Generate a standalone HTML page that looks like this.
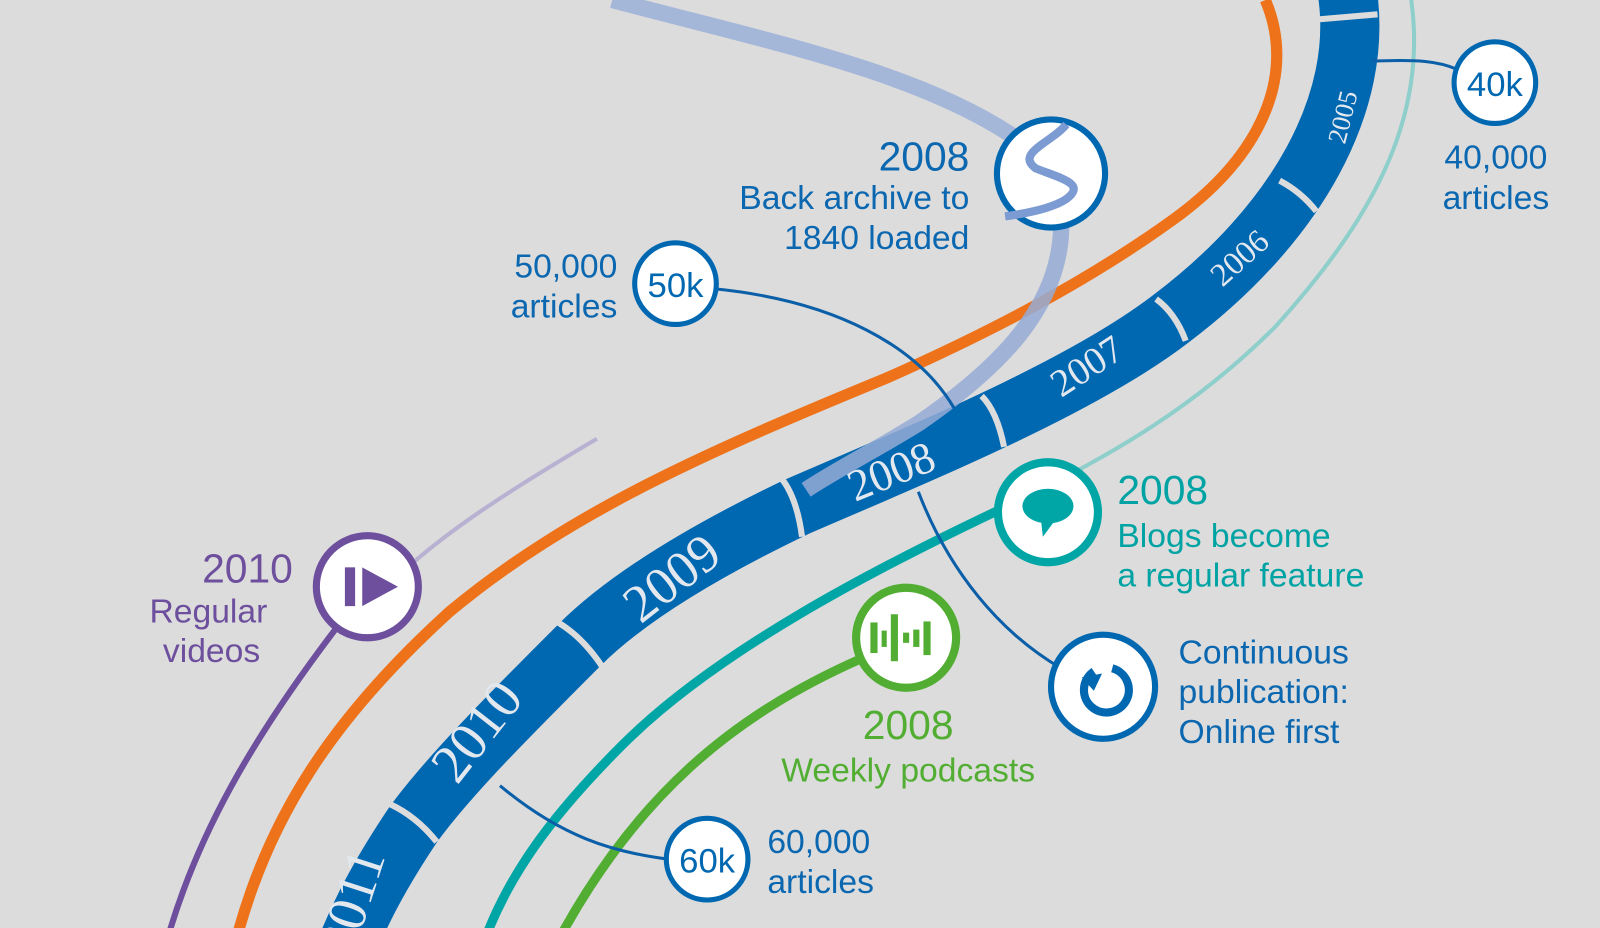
<!DOCTYPE html>
<html><head><meta charset="utf-8"><style>
html,body{margin:0;padding:0;background:#dcdcdc;}
svg{display:block;}
text{font-family:"Liberation Sans",sans-serif;}
.yr{font-family:"Liberation Serif",serif;fill:#e3e8ef;}
</style></head><body>
<svg width="1600" height="928" viewBox="0 0 1600 928" xmlns="http://www.w3.org/2000/svg">
<rect width="1600" height="928" fill="#dcdcdc"/>
<g transform="scale(1.0204)">
<!-- purple line -->
<path d="M585,430 C500,480 420,530 370,585" stroke="#b9b1d2" stroke-width="4" fill="none"/>
<path d="M330,615 C250,720 190,820 160,935" stroke="#6d4f9d" stroke-width="6" fill="none"/>
<!-- light teal upper -->
<path d="M1383,0 C1400,120 1340,220 1250,320 C1170,400 1090,445 1000,490" stroke="#8fcfcb" stroke-width="4" fill="none"/>
<!-- teal lower -->
<path d="M1000,490 C850,560 700,640 610,730 C540,800 495,860 470,935" stroke="#00a6a6" stroke-width="9" fill="none"/>
<!-- green -->
<path d="M845,645 C720,700 620,780 540,935" stroke="#52ae32" stroke-width="9" fill="none"/>
<!-- blue band -->
<path d="M1320,-10 C1338,100 1270,220 1148,312 C1060,380 900,445 780,497 C680,545 610,590 568,632 C500,700 440,760 405,808 C370,860 350,900 335,940" stroke="#0067b1" stroke-width="58" fill="none"/>
<!-- separators -->
<g stroke="#dcdcdc" stroke-width="6" fill="none">
<path d="M1292,19 L1350,14"/>
<path d="M1254,177 Q1275,188 1290,207"/>
<path d="M1133,293 Q1152,307 1162,334"/>
<path d="M962,388 Q977,403 984,438"/>
<path d="M766,469 Q781,488 786,526"/>
<path d="M547,610 Q572,625 592,656"/>
<path d="M382,788 Q408,800 428,825"/>
</g>
<!-- year labels -->
<text class="yr" x="0" y="0" font-size="26" transform="translate(1318,142) rotate(-76)">2005</text>
<text class="yr" x="0" y="0" font-size="32" transform="translate(1198,282) rotate(-42)">2006</text>
<text class="yr" x="0" y="0" font-size="38" transform="translate(1040,390) rotate(-33)">2007</text>
<text class="yr" x="0" y="0" font-size="44" transform="translate(838,492) rotate(-22)">2008</text>
<text class="yr" x="0" y="0" font-size="52" transform="translate(628,612) rotate(-38)">2009</text>
<text class="yr" x="0" y="0" font-size="54" transform="translate(448,770) rotate(-52)">2010</text>
<text class="yr" x="0" y="0" font-size="54" transform="translate(345,940) rotate(-72)">2011</text>
<!-- orange -->
<path d="M1240,0 C1270,70 1240,150 1150,215 C1060,280 960,330 870,370 C700,440 560,500 440,600 C330,700 260,800 228,935" stroke="#ee7219" stroke-width="11" fill="none"/>
<!-- light blue archive curve -->
<path d="M600,0 C750,40 900,70 995,135" stroke="#9fb2d8" stroke-width="16" fill="none" opacity="0.9"/>
<path d="M1040,220 C1040,300 980,360 900,415 C860,440 820,460 790,480" stroke="#95abd6" stroke-width="16" fill="none" opacity="0.85"/>
<!-- connectors -->
<g stroke="#0a5fa8" stroke-width="3" fill="none">
<path d="M700,283 C820,295 900,340 935,400"/>
<path d="M900,482 C930,560 980,620 1040,655"/>
<path d="M1345,60 C1390,58 1410,60 1428,68"/>
<path d="M490,770 C550,820 600,835 655,842"/>
</g>
<!-- circles -->
<circle cx="1030" cy="170" r="53" fill="#fff" stroke="#0067b1" stroke-width="6"/>
<path d="M1045,122 C1030,140 995,150 1015,165 C1040,175 1065,180 1045,195 C1030,205 1000,210 985,212" stroke="#7d9bd3" stroke-width="8" fill="none"/>
<circle cx="1465" cy="81" r="40" fill="#fff" stroke="#0067b1" stroke-width="5"/>
<text x="1465" y="94" font-size="34" fill="#0067b1" text-anchor="middle" font-family="Liberation Serif,serif">40k</text>
<circle cx="662" cy="278" r="40" fill="#fff" stroke="#0067b1" stroke-width="5"/>
<text x="662" y="291" font-size="34" fill="#0067b1" text-anchor="middle" font-family="Liberation Serif,serif">50k</text>
<circle cx="693" cy="842" r="40" fill="#fff" stroke="#0067b1" stroke-width="5"/>
<text x="693" y="855" font-size="34" fill="#0067b1" text-anchor="middle" font-family="Liberation Serif,serif">60k</text>
<circle cx="360" cy="575" r="50" fill="#fff" stroke="#6d4f9d" stroke-width="7"/>
<rect x="338" y="556" width="10" height="38" fill="#6d4f9d"/>
<path d="M355,556 L390,575 L355,594 Z" fill="#6d4f9d"/>
<circle cx="1027" cy="502" r="49" fill="#fff" stroke="#00a6a6" stroke-width="8"/>
<ellipse cx="1027" cy="496" rx="25" ry="17" fill="#00a6a6"/>
<path d="M1020,508 L1022,526 L1034,510 Z" fill="#00a6a6"/>
<circle cx="888" cy="625" r="49" fill="#fff" stroke="#52ae32" stroke-width="8"/>
<g fill="#52ae32"><rect x="853" y="610" width="7" height="30"/><rect x="864" y="618" width="5" height="16"/><rect x="873" y="602" width="7" height="46"/><rect x="885" y="620" width="6" height="10"/><rect x="895" y="617" width="6" height="17"/><rect x="905" y="609" width="7" height="33"/></g>
<circle cx="1081" cy="673" r="51" fill="#fff" stroke="#0067b1" stroke-width="6"/>
<path d="M1072,658 A22,22 0 1 0 1090,655" stroke="#0067b1" stroke-width="8" fill="none"/>
<path d="M1060,664 L1080,660 L1072,677 Z" fill="#0067b1"/>
<!-- text labels -->
<g fill="#0a67b0" font-size="33">
<text x="950" y="167" font-size="40" text-anchor="end">2008</text>
<text x="950" y="205" text-anchor="end">Back archive to</text>
<text x="950" y="244" text-anchor="end">1840 loaded</text>
<text x="605" y="272" text-anchor="end">50,000</text>
<text x="605" y="311" text-anchor="end">articles</text>
<text x="1466" y="165" text-anchor="middle">40,000</text>
<text x="1466" y="205" text-anchor="middle">articles</text>
<text x="752" y="836">60,000</text>
<text x="752" y="875">articles</text>
<text x="1155" y="650">Continuous</text>
<text x="1155" y="689">publication:</text>
<text x="1155" y="728">Online first</text>
</g>
<g fill="#00a3a3" font-size="33">
<text x="1095" y="494" font-size="40">2008</text>
<text x="1095" y="536">Blogs become</text>
<text x="1095" y="575">a regular feature</text>
</g>
<g fill="#52ae32" font-size="33" text-anchor="middle">
<text x="890" y="724" font-size="40">2008</text>
<text x="890" y="766">Weekly podcasts</text>
</g>
<g fill="#6d4f9d" font-size="33" text-anchor="end">
<text x="287" y="571" font-size="40">2010</text>
<text x="262" y="610">Regular</text>
<text x="255" y="649">videos</text>
</g>
</g>
</svg>
</body></html>
